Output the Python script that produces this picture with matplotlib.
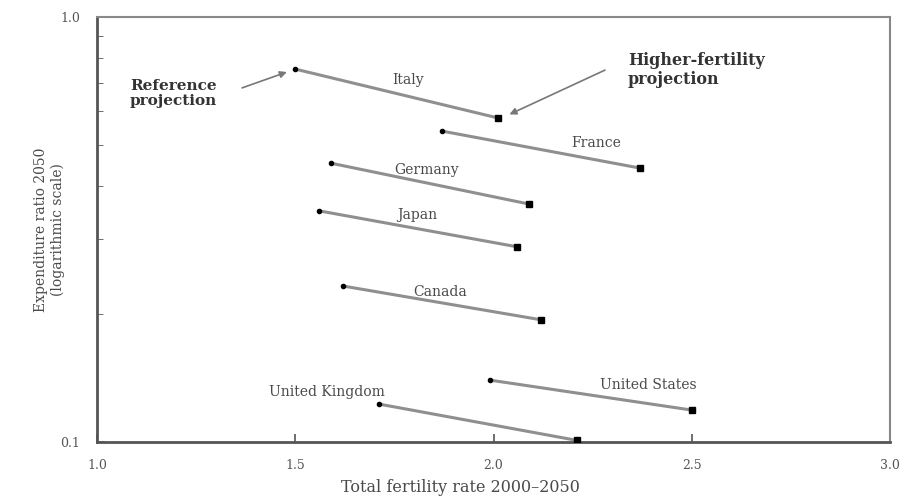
import matplotlib
matplotlib.use('Agg')
import matplotlib.pyplot as plt
from matplotlib.ticker import FixedLocator, NullFormatter

# data
countries = ["Italy", "France", "Germany", "Japan", "Canada", "United States", "United Kingdom"]
tfr_ref = [1.50, 1.87, 1.59, 1.56, 1.62, 1.99, 1.71]
ratio_ref = [0.754, 0.539, 0.453, 0.350, 0.233, 0.140, 0.123]
tfr_high = [2.01, 2.37, 2.09, 2.06, 2.12, 2.50, 2.21]
ratio_high = [0.579, 0.441, 0.363, 0.288, 0.194, 0.119, 0.101]

# where each country name sits
label_x = [1.784, 2.258, 1.832, 1.807, 1.865, 2.390, 1.580]
label_y = [0.711, 0.505, 0.436, 0.342, 0.225, 0.136, 0.131]

plt.rcParams['font.family'] = ['DejaVu Serif']

fig = plt.figure(figsize=(9.14, 4.98), dpi=100)
ax = fig.add_axes([0.106, 0.112, 0.868, 0.854])

for i in range(len(countries)):
    ax.plot([tfr_ref[i], tfr_high[i]], [ratio_ref[i], ratio_high[i]],
            color='#8f8f8f', linewidth=2.2, zorder=2)
    ax.plot(tfr_ref[i], ratio_ref[i], 'o', color='black', markersize=3, zorder=3)
    ax.plot(tfr_high[i], ratio_high[i], 's', color='black', markersize=5, zorder=3)
    ax.text(label_x[i], label_y[i], countries[i], ha='center', va='center',
            fontsize=10, color='#4a4a4a')

ax.set_yscale('log')
ax.set_xlim(1.0, 3.0)
ax.set_ylim(0.1, 1.0)
ax.xaxis.set_major_locator(FixedLocator([1.0, 1.5, 2.0, 2.5, 3.0]))
ax.set_xticklabels(["1.0", "1.5", "2.0", "2.5", "3.0"])
ax.yaxis.set_major_locator(FixedLocator([0.1, 1.0]))
ax.set_yticklabels(["0.1", "1.0"])
ax.yaxis.set_minor_locator(FixedLocator([0.2, 0.3, 0.4, 0.5, 0.6, 0.7, 0.8, 0.9]))
ax.yaxis.set_minor_formatter(NullFormatter())
ax.tick_params(direction='in', length=6, width=1.2, color='#555555', labelsize=9,
               labelcolor='#555555')
ax.tick_params(axis='y', which='minor', direction='in', length=4, color='#555555')
ax.tick_params(axis='x', pad=12)
ax.tick_params(axis='y', pad=12)

for side in ['left', 'bottom']:
    ax.spines[side].set_linewidth(2)
    ax.spines[side].set_color('#555555')
for side in ['top', 'right']:
    ax.spines[side].set_linewidth(1.5)
    ax.spines[side].set_color('#888888')

ax.set_xlabel("Total fertility rate 2000\u20132050", fontsize=11.5, color='#4a4a4a')
ax.xaxis.set_label_coords(0.458, -0.086)
ax.set_ylabel("Expenditure ratio 2050\n(logarithmic scale)", fontsize=10,
              color='#4a4a4a')
ax.yaxis.set_label_coords(-0.040, 0.5)

ax.text(1.083, 0.662, "Reference\nprojection", fontsize=11, fontweight='bold',
        color='#333333', ha='left', va='center', multialignment='left', linespacing=1.1)
ax.annotate("", xy=(1.479, 0.742), xytext=(1.366, 0.681),
            arrowprops=dict(arrowstyle='-|>', color='#777777', lw=1.2,
                            shrinkA=0, shrinkB=0))
ax.text(2.339, 0.75, "Higher-fertility\nprojection", fontsize=11.5, fontweight='bold',
        color='#333333', ha='left', va='center', multialignment='left', linespacing=1.1)
ax.annotate("", xy=(2.04, 0.59), xytext=(2.281, 0.75),
            arrowprops=dict(arrowstyle='-|>', color='#777777', lw=1.2,
                            shrinkA=0, shrinkB=0))

plt.savefig("out.png", dpi=100)
plt.close()
